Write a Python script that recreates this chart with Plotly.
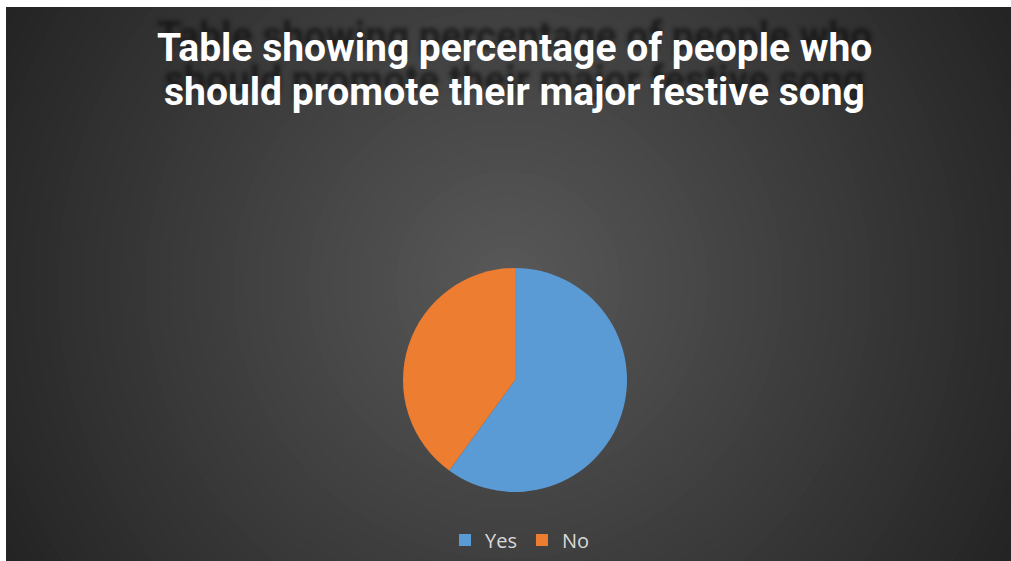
import plotly.graph_objects as go

labels = ["Yes", "No"]
values = [60, 40]
colors = ["#5b9bd5", "#ed7d31"]
title_lines = ["Table showing percentage of people who",
               "should promote their major festive song"]

W, H = 1011, 561

def px_x(v):
    return v / W

def px_y(v):
    return 1 - v / H

fig = go.Figure()
fig.add_trace(go.Pie(
    labels=labels, values=values, sort=False, direction="clockwise", rotation=0,
    marker=dict(colors=colors, line=dict(width=0)),
    textinfo="none", hoverinfo="label+percent",
    domain=dict(x=[px_x(403), px_x(627)], y=[px_y(492), px_y(268)]),
))

shapes = []
# radial gradient background
cx, cy = 508, 284
N = 48
Rmax = 600
for i in range(N):
    r = Rmax * (1 - i / N)
    t = min(r / 575, 1.0)
    c = int(round(0x59 - (0x59 - 0x24) * t))
    col = f"rgb({c},{c},{c})"
    shapes.append(dict(type="circle", xref="paper", yref="paper", layer="below",
                       x0=px_x(cx - r), x1=px_x(cx + r), y0=px_y(cy + r), y1=px_y(cy - r),
                       fillcolor=col, line=dict(width=0)))
# white page margins
shapes.append(dict(type="rect", xref="paper", yref="paper", layer="below",
                   x0=0, x1=px_x(6), y0=0, y1=1, fillcolor="white", line=dict(width=0)))
shapes.append(dict(type="rect", xref="paper", yref="paper", layer="below",
                   x0=0, x1=1, y0=px_y(7), y1=1, fillcolor="white", line=dict(width=0)))

title_font = dict(family="Roboto", size=39, color="white", weight="bold",
                  shadow="0px -12px 4px rgba(15,15,15,0.7)")
annotations = []
for text, yc in zip(title_lines, [48, 92]):
    annotations.append(dict(text=text, x=px_x(514), y=px_y(yc), xref="paper", yref="paper",
                            xanchor="center", yanchor="middle", showarrow=False,
                            font=title_font))

fig.update_layout(
    width=W, height=H,
    margin=dict(l=0, r=0, t=0, b=0),
    paper_bgcolor="#2a2a2a", plot_bgcolor="rgba(0,0,0,0)",
    shapes=shapes,
    showlegend=True,
    legend=dict(orientation="h", x=px_x(520), xanchor="center", y=px_y(540), yanchor="middle",
                font=dict(family="Open Sans", size=20, color="#d9d9d9"),
                bgcolor="rgba(0,0,0,0)", itemwidth=30),
    annotations=annotations,
)

fig.write_html("out.html", config={"displayModeBar": False},
               post_script="document.body.style.margin='0';document.body.style.overflow='hidden';")
